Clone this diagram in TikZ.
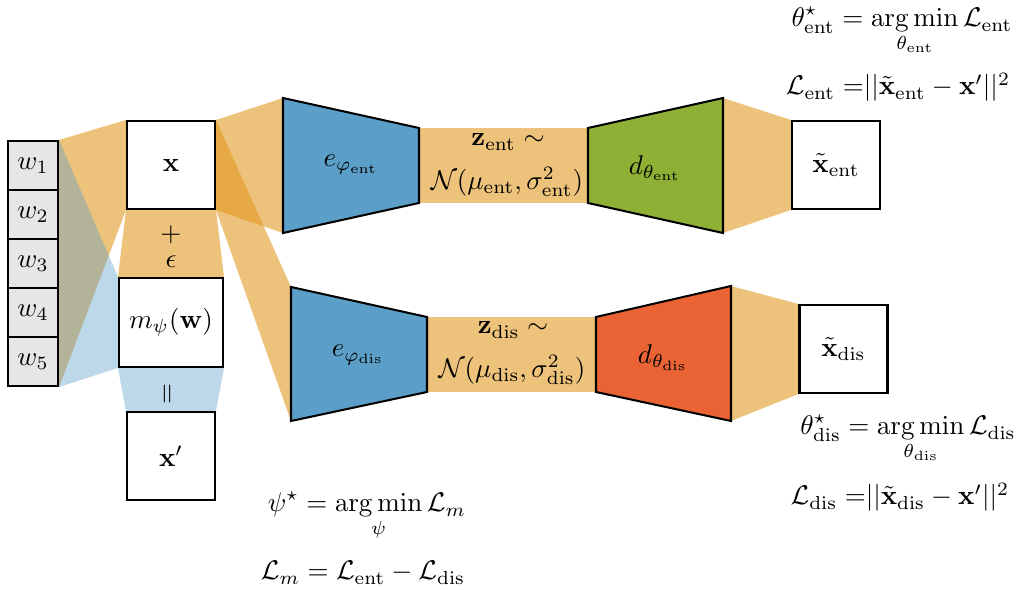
\documentclass[tikz,border=0pt]{standalone}
\usepackage{amsmath,amssymb}
\usetikzlibrary{calc}
\definecolor{bandorange}{RGB}{225,153,33}
\definecolor{encblue}{RGB}{91,158,199}
\definecolor{decgreen}{RGB}{142,176,52}
\definecolor{decred}{RGB}{233,99,53}
\definecolor{wgray}{RGB}{230,230,230}
\pgfdeclarelayer{bg}
\pgfsetlayers{bg,main}
\begin{document}
\begin{tikzpicture}[x=0.37pt,y=-0.37pt,
  box/.style={draw=black, line width=0.75pt, fill=white, minimum width=88*0.37pt, minimum height=88*0.37pt, inner sep=0pt},
  wbox/.style={draw=black, line width=0.75pt, fill=wgray, minimum width=50*0.37pt, minimum height=49*0.37pt, inner sep=0pt},
  band/.style={fill=bandorange, fill opacity=0.6},
  bband/.style={fill=encblue, fill opacity=0.4},
  trap/.style={draw=black, line width=0.75pt, line join=miter},
  lbl/.style={inner sep=0pt},
  eqn/.style={inner sep=0pt, anchor=base}]
\useasboundingbox (0,0) rectangle (1020,590);
% input boxes
\node[wbox] (w1) at (33,165.5) {$w_1$};
\node[wbox] (w2) at (33,214.5) {$w_2$};
\node[wbox] (w3) at (33,263.5) {$w_3$};
\node[wbox] (w4) at (33,312.5) {$w_4$};
\node[wbox] (w5) at (33,361.5) {$w_5$};
\node[box] (x) at (171,165) {$\mathbf{x}$};
\node[box, minimum width=104*0.37pt, minimum height=89*0.37pt] (m) at (171,322.5) {$m_\psi(\mathbf{w})$};
\node[box] (xp) at (171,456) {$\mathbf{x}'$};
\node[box] (xte) at (836,165) {$\tilde{\mathbf{x}}_{\mathrm{ent}}$};
\node[box] (xtd) at (843.5,349) {$\tilde{\mathbf{x}}_{\mathrm{dis}}$};
% trapezoid corners
\coordinate (ee1) at (283,98);  \coordinate (ee2) at (419,128);
\coordinate (ee3) at (419,203); \coordinate (ee4) at (283,233);
\coordinate (de1) at (588,128); \coordinate (de2) at (723,98);
\coordinate (de3) at (723,233); \coordinate (de4) at (588,203);
\coordinate (ed1) at (291,287); \coordinate (ed2) at (427,317);
\coordinate (ed3) at (427,392); \coordinate (ed4) at (291,421);
\coordinate (dd1) at (596,317); \coordinate (dd2) at (731,286);
\coordinate (dd3) at (731,421); \coordinate (dd4) at (596,392);
\draw[trap, fill=encblue] (ee1) -- (ee2) -- (ee3) -- (ee4) -- cycle;
\draw[trap, fill=decgreen] (de1) -- (de2) -- (de3) -- (de4) -- cycle;
\draw[trap, fill=encblue] (ed1) -- (ed2) -- (ed3) -- (ed4) -- cycle;
\draw[trap, fill=decred] (dd1) -- (dd2) -- (dd3) -- (dd4) -- cycle;
% bands
\begin{pgfonlayer}{bg}
\fill[band] (w1.north east) -- (x.north west) -- (x.south west) -- (w5.south east) -- cycle;
\fill[band] (x.south west) -- (x.south east) -- (m.north east) -- (m.north west) -- cycle;
\fill[band] (x.north east) -- (ee1) -- (ee4) -- (x.south east) -- cycle;
\fill[band] (x.north east) -- (ed1) -- (ed4) -- (x.south east) -- cycle;
\fill[band] (ee2) -- (de1) -- (de4) -- (ee3) -- cycle;
\fill[band] (ed2) -- (dd1) -- (dd4) -- (ed3) -- cycle;
\fill[band] (de2) -- (xte.north west) -- (xte.south west) -- (de3) -- cycle;
\fill[band] (dd2) -- (xtd.north west) -- (xtd.south west) -- (dd3) -- cycle;
\fill[bband] (w1.north east) -- (m.north west) -- (m.south west) -- (w5.south east) -- cycle;
\fill[bband] (m.south west) -- (m.south east) -- (xp.north east) -- (xp.north west) -- cycle;
\end{pgfonlayer}
% labels
\node[lbl] (plus) at (171,235) {$+$};
\node[lbl] (eps) at (171,262) {$\epsilon$};
\node[lbl, rotate=90] (eqsign) at (169,394) {$=$};
\node[lbl] (eent) at (351,165) {$e_{\varphi_{\mathrm{ent}}}$};
\node[lbl] (edis) at (358,355) {$e_{\varphi_{\mathrm{dis}}}$};
\node[lbl] (dent) at (655,168) {$d_{\theta_{\mathrm{ent}}}$};
\node[lbl] (ddis) at (663,358) {$d_{\theta_{\mathrm{dis}}}$};
\node[lbl] (zent) at (508,142) {$\mathbf{z}_{\mathrm{ent}} \sim$};
\node[lbl] (Nent) at (507,182) {$\mathcal{N}(\mu_{\mathrm{ent}}, \sigma^2_{\mathrm{ent}})$};
\node[lbl] (zdis) at (513,330) {$\mathbf{z}_{\mathrm{dis}} \sim$};
\node[lbl] (Ndis) at (512,370) {$\mathcal{N}(\mu_{\mathrm{dis}}, \sigma^2_{\mathrm{dis}})$};
% equations
\node[eqn] (thent) at (902,27) {$\displaystyle \theta^\star_{\mathrm{ent}} = \operatorname*{arg\,min}_{\theta_{\mathrm{ent}}} \mathcal{L}_{\mathrm{ent}}$};
\node[eqn] (lent) at (898,95) {$\mathcal{L}_{\mathrm{ent}}\;{=}||\tilde{\mathbf{x}}_{\mathrm{ent}} - \mathbf{x}'||^2$};
\node[eqn] (thdis) at (908,435) {$\displaystyle \theta^\star_{\mathrm{dis}} = \operatorname*{arg\,min}_{\theta_{\mathrm{dis}}} \mathcal{L}_{\mathrm{dis}}$};
\node[eqn] (ldis) at (900,505) {$\mathcal{L}_{\mathrm{dis}}\;{=}||\tilde{\mathbf{x}}_{\mathrm{dis}} - \mathbf{x}'||^2$};
\node[eqn] (psi) at (367,512) {$\displaystyle \psi^\star = \operatorname*{arg\,min}_{\psi} \mathcal{L}_m$};
\node[eqn] (lm) at (363,580) {$\mathcal{L}_m = \mathcal{L}_{\mathrm{ent}} - \mathcal{L}_{\mathrm{dis}}$};
\end{tikzpicture}
\end{document}
